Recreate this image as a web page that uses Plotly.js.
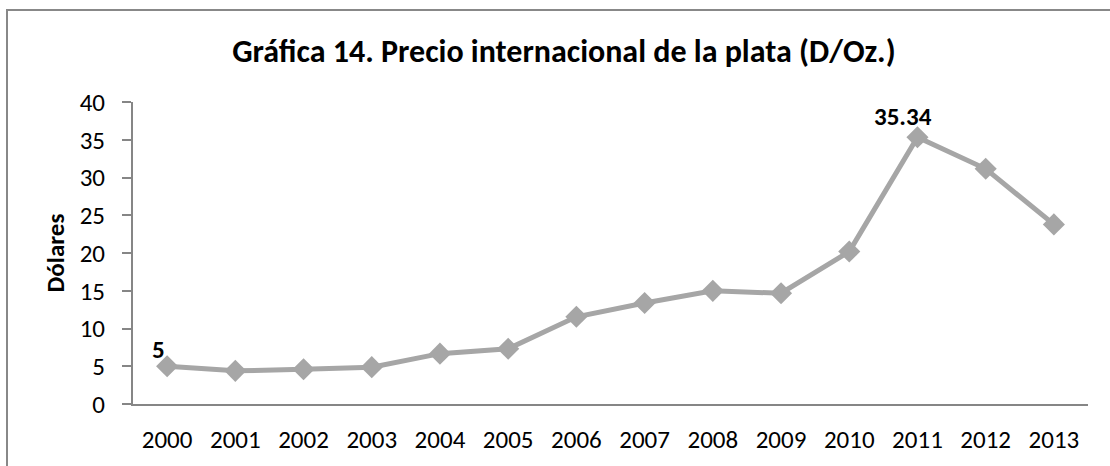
<!DOCTYPE html>
<html>
<head>
<meta charset="utf-8">
<script src="https://cdn.plot.ly/plotly-3.0.1.min.js"></script>
<style>html,body{margin:0;padding:0;background:#fff;}#chart{width:1110px;height:466px;}</style>
</head>
<body>
<div id="chart"></div>
<script>
const years = ['2000','2001','2002','2003','2004','2005','2006','2007','2008','2009','2010','2011','2012','2013'];
const prices = [5, 4.39, 4.60, 4.88, 6.67, 7.32, 11.55, 13.38, 14.99, 14.67, 20.19, 35.34, 31.15, 23.79];
const labelYears = ['2000', '2011'];
const labelTexts = ['5', '35.34'];
const titleText = 'Gráfica 14. Precio internacional de la plata (D/Oz.)';
const yTitle = 'Dólares';
const yTicks = [0, 5, 10, 15, 20, 25, 30, 35, 40];

const FONT = 'Carlito, "Open Sans", "Liberation Sans", sans-serif';
const labelShifts = [[-9, 17], [-14, 21]];

const annotations = labelYears.map((yr, i) => {
  const idx = years.indexOf(yr);
  return {
    x: idx, y: prices[idx], xref: 'x', yref: 'y',
    text: '<b>' + labelTexts[i] + '</b>', showarrow: false,
    xshift: labelShifts[i][0], yshift: labelShifts[i][1],
    font: {family: FONT, size: 25, color: '#000'}
  };
});

const trace = {
  x: years, y: prices, type: 'scatter', mode: 'lines+markers',
  line: {color: '#A6A6A6', width: 5},
  marker: {symbol: 'diamond', size: 17, color: '#A6A6A6'},
  hoverinfo: 'x+y'
};

const layout = {
  width: 1110, height: 466,
  margin: {l: 133, r: 22, t: 102, b: 62},
  paper_bgcolor: '#fff', plot_bgcolor: '#fff',
  showlegend: false,
  font: {family: FONT, color: '#000'},
  title: {text: '<b>' + titleText + '</b>', font: {family: FONT, size: 32, color: '#000'},
          x: 0.508, xref: 'container', xanchor: 'center', y: 1 - 51/466, yref: 'container', yanchor: 'middle'},
  xaxis: {type: 'category', range: [-0.5, 13.5], showgrid: false, zeroline: false,
          showline: true, linecolor: '#868686', linewidth: 2, ticks: '',
          tickfont: {family: FONT, size: 25, color: '#000'}, ticklabelstandoff: 12, fixedrange: true},
  yaxis: {range: [0, 40], tickvals: yTicks, showgrid: false, zeroline: false,
          showline: true, linecolor: '#868686', linewidth: 2, ticks: 'outside', ticklen: 9, tickwidth: 2, tickcolor: '#868686',
          tickfont: {family: FONT, size: 25, color: '#000'}, ticklabelstandoff: 12,
          title: {text: '<b>' + yTitle + '</b>', font: {family: FONT, size: 25, color: '#000'}, standoff: 8}, fixedrange: true},
  annotations: annotations,
  shapes: [{type: 'rect', xref: 'paper', yref: 'paper', x0: (7-133)/955, x1: 1.2, y0: -0.5, y1: (404-10)/302,
            line: {color: '#888888', width: 2}, fillcolor: 'rgba(0,0,0,0)', layer: 'below'}]
};

Plotly.newPlot('chart', [trace], layout, {displayModeBar: false, staticPlot: true});
</script>
</body>
</html>
